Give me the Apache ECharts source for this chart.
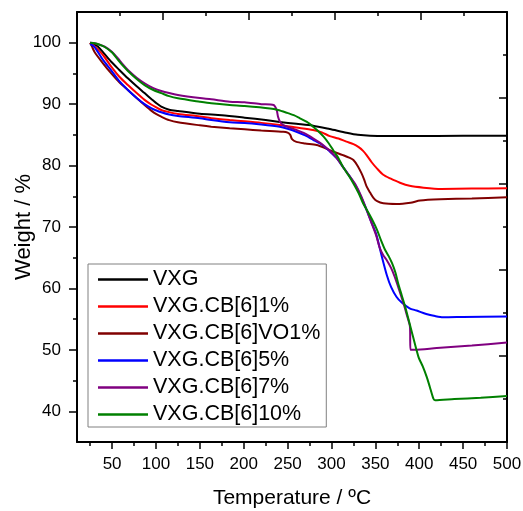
<!DOCTYPE html>
<html>
<head>
<meta charset="utf-8">
<script src="https://cdn.jsdelivr.net/npm/echarts@6/dist/echarts.min.js"></script>
<style>html,body{margin:0;padding:0;background:#fff}#c{width:523px;height:511px}</style>
</head>
<body>
<div id="c"></div>
<script>
const seriesNames = ['VXG','VXG.CB[6]1%','VXG.CB[6]VO1%','VXG.CB[6]5%','VXG.CB[6]7%','VXG.CB[6]10%'];
const seriesColors = ['#000000','#ff0000','#800000','#0000ff','#800080','#008000'];

const vxg = [[25,100],[30,99.7],[34,99.35],[40,98.4],[49,96.9],[58,95.6],[68,94.2],[78,92.9],[87,91.8],[95,90.8],[100,90.2],[106,89.6],[115,89.1],[125,88.9],[150,88.45],[175,88.2],[201,87.8],[225,87.4],[241,87.1],[260,86.8],[279,86.5],[298,85.95],[317,85.35],[330,85.0],[344,84.85],[390,84.8],[450,84.85],[500,84.87]];
const cb1 = [[25,100],[30,99.4],[39.6,98],[49,96.1],[58,94.5],[68,93.1],[78,91.8],[87,90.7],[95,89.9],[100,89.5],[106,89.05],[115,88.7],[125,88.4],[150,88.0],[163,87.7],[184,87.4],[201,87.2],[220,86.95],[241,86.6],[260,86.2],[279,85.8],[289,85.4],[298,84.8],[308,84.4],[317,83.9],[325,83.5],[331,83.0],[336,82.4],[340,81.7],[346,80.5],[352,79.5],[359,78.5],[367,77.9],[378,77.2],[389,76.7],[405,76.4],[425,76.2],[460,76.25],[500,76.3]];
const vo1 = [[25,100],[27,99.4],[30,98.5],[39.6,96.65],[49,95.0],[58,93.6],[68,92.3],[78,91.0],[87,89.86],[95,88.9],[100,88.4],[106,87.96],[115,87.4],[125,87.04],[150,86.55],[163,86.33],[184,86.07],[201,85.9],[220,85.7],[245,85.5],[250,85.35],[253,85.0],[255,84.3],[260,83.85],[270,83.6],[283,83.35],[292,82.9],[298,82.5],[313,81.7],[320,81.3],[325,80.9],[330,79.9],[334,78.8],[337,77.8],[340,76.6],[344,75.6],[348,74.7],[352,74.2],[359,73.86],[374,73.75],[390,73.95],[401,74.3],[424,74.5],[460,74.65],[500,74.83]];
const cb5 = [[25,99.8],[30,99.3],[39.6,97.2],[49,95.5],[58,93.8],[68,92.3],[78,91.0],[87,90.0],[95,89.3],[100,89.0],[106,88.67],[115,88.3],[125,88.07],[150,87.7],[163,87.4],[184,87.04],[201,86.95],[220,86.7],[241,86.33],[250,86.0],[260,85.5],[270,84.9],[279,84.2],[290,83.3],[298,82.3],[306,81.2],[313,79.8],[320,78.4],[328,76.6],[334,74.8],[340,72.8],[346,70.6],[351,68.8],[357,65.4],[363,62.2],[368,60.2],[374,58.65],[380,57.7],[389,56.77],[397,56.4],[408,55.84],[418,55.5],[427,55.3],[450,55.35],[500,55.45]];
const cb7 = [[25,100],[30,99.9],[35,99.7],[41.6,99.35],[50,98.5],[56.7,97.45],[62,96.5],[68,95.56],[78,94.3],[87,93.4],[97,92.6],[106,92.14],[115,91.8],[125,91.5],[150,91.0],[163,90.8],[184,90.4],[201,90.3],[220,90.0],[234,89.86],[237.5,89.05],[239,88.0],[241.3,87.14],[245,86.6],[252,86.2],[260,85.8],[270,85.2],[279,84.44],[290,83.4],[298,82.4],[306,81.2],[313,79.8],[320,78.4],[327,77.0],[334,75.0],[340,72.8],[346,70.5],[351,68.6],[355,66.6],[359,65.4],[363,64.6],[368,63.3],[372,61.9],[377,59.8],[382,57.58],[386,55.6],[389.4,53.77],[390,50],[395,50],[420,50.3],[460,50.7],[500,51.2]];
const cb10 = [[25,100],[30,99.9],[35,99.7],[41.6,99.3],[50,98.4],[56.7,97.2],[62,96.3],[68,95.4],[78,94.1],[87,93.1],[97,92.3],[106,91.8],[115,91.3],[125,90.95],[150,90.4],[163,90.14],[184,89.86],[201,89.7],[230,89.3],[239,89.05],[249,88.6],[257,88.2],[264,87.7],[272,87.1],[279,86.33],[285,85.6],[291,84.7],[297,83.6],[302,82.5],[308,81.2],[313,79.8],[319,78.5],[325,77.1],[331,75.5],[336,73.86],[341,72.6],[346,71.3],[352,69.5],[356,68.0],[361,66.3],[365,65.3],[369,64.1],[373,62.5],[376,60.8],[380,58.9],[384,57.0],[391,53.2],[399,48.9],[404,47.3],[408.5,45.6],[412,44.0],[416,42.1],[418,41.8],[440,42.0],[470,42.2],[500,42.5]];
const seriesData = [vxg, cb1, vo1, cb5, cb7, cb10];

const xMajorTicks = [50,100,150,200,250,300,350,400,450,500];
const xMinorTicks = [25,75,125,175,225,275,325,375,425,475];
const yMajorTicks = [40,50,60,70,80,90,100];
const yMinorTicks = [45,55,65,75,85,95];

const font = 'Liberation Sans, Arial, sans-serif';
const axisLine = {show:true, onZero:false, lineStyle:{color:'#000', width:2}};

const chart = echarts.init(document.getElementById('c'), null, {renderer:'canvas'});
chart.setOption({
  animation:false,
  backgroundColor:'#fff',
  grid:{left:77, right:16, top:12, bottom:69, containLabel:false, outerBoundsMode:'none'},
  legend:{
    orient:'vertical', left:88, top:264,
    data: seriesNames.map(n=>({name:n, icon:'rect'})),
    itemWidth:50, itemHeight:2.5, itemGap:4,
    padding:[4,6,1,10],
    borderColor:'#808080', borderWidth:1, backgroundColor:'#fff',
    textStyle:{fontFamily:font, fontSize:21.5, color:'#000', lineHeight:23}
  },
  xAxis:[
    {type:'value', min:10, max:500, position:'bottom',
     name:'Temperature / ºC', nameLocation:'middle', nameGap:46,
     nameTextStyle:{fontFamily:font, fontSize:21, color:'#000'},
     axisLine:axisLine,
     axisTick:{show:true, inside:false, length:7, lineStyle:{color:'#000', width:1.5}, customValues:xMajorTicks},
     axisLabel:{show:true, margin:14, fontFamily:font, fontSize:17, color:'#000', customValues:xMajorTicks},
     splitLine:{show:false}},
    {type:'value', min:0, max:5, interval:1, position:'top',
     axisLine:axisLine,
     axisTick:{show:true, inside:true, length:8, lineStyle:{color:'#000', width:1.5}},
     minorTick:{show:true, splitNumber:2, length:4, lineStyle:{color:'#000', width:1.5}},
     axisLabel:{show:false}, splitLine:{show:false}},
    {type:'value', min:10, max:500, position:'bottom',
     axisLine:{show:false},
     axisTick:{show:true, inside:false, length:4, lineStyle:{color:'#000', width:1.5}, customValues:xMinorTicks},
     axisLabel:{show:false, customValues:xMinorTicks}, splitLine:{show:false}}
  ],
  yAxis:[
    {type:'value', min:35, max:105, position:'left',
     name:'Weight / %', nameLocation:'middle', nameGap:42, nameRotate:90, nameMoveOverlap:false,
     nameTextStyle:{fontFamily:font, fontSize:22, color:'#000'},
     axisLine:axisLine,
     axisTick:{show:true, inside:false, length:8, lineStyle:{color:'#000', width:1.5}, customValues:yMajorTicks},
     axisLabel:{show:true, margin:16, fontFamily:font, fontSize:17, color:'#000', customValues:yMajorTicks},
     splitLine:{show:false}},
    {type:'value', min:0, max:5, interval:1, position:'right',
     axisLine:axisLine,
     axisTick:{show:true, inside:true, length:8, lineStyle:{color:'#000', width:1.5}},
     minorTick:{show:true, splitNumber:2, length:4, lineStyle:{color:'#000', width:1.5}},
     axisLabel:{show:false}, splitLine:{show:false}},
    {type:'value', min:35, max:105, position:'left',
     axisLine:{show:false},
     axisTick:{show:true, inside:false, length:4, lineStyle:{color:'#000', width:1.5}, customValues:yMinorTicks},
     axisLabel:{show:false, customValues:yMinorTicks}, splitLine:{show:false}}
  ],
  series: seriesNames.map((n,i)=>({
    name:n, type:'line', xAxisIndex:0, yAxisIndex:0,
    data:seriesData[i], showSymbol:false, symbol:'none', smooth:0.25,
    lineStyle:{color:seriesColors[i], width:2}, itemStyle:{color:seriesColors[i]},
    emphasis:{disabled:true}
  }))
});
</script>
</body>
</html>
